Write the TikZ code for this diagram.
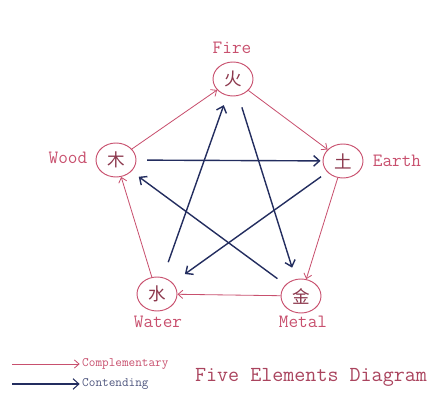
\documentclass[tikz,border=0pt]{standalone}
\usepackage{fontspec}
\newfontfamily\cjkfont{Noto Sans CJK SC}
\usetikzlibrary{positioning, arrows.meta, shapes.geometric}
\definecolor{elemred}{RGB}{200,80,110}
\definecolor{elemblue}{RGB}{35,45,95}
\tikzset{
    elem/.style={ellipse, draw=elemred, line width=0.8pt, inner sep=0pt,
        minimum width=1.2cm, minimum height=1.02cm, text=elemred!70!black, font=\cjkfont\fontsize{15}{17}\selectfont},
    tag/.style={text=elemred, inner sep=0pt, font=\ttfamily\fontsize{16}{18}\selectfont},
    feeds/.style={draw=elemred, line width=0.7pt, -{Straight Barb[length=4pt, width=7pt]}},
    fights/.style={draw=elemblue, line width=1.2pt, -{Straight Barb[length=5pt, width=9pt]}}
}

\begin{document}
\begin{tikzpicture}[x=0.03cm, y=-0.03cm]
    \useasboundingbox (0,0) rectangle (443,402);

    \node[elem] (fire)  at (233,79)  {火};
    \node[elem] (wood)  at (116,160) {木};
    \node[elem] (earth) at (343,161) {土};
    \node[elem] (water) at (157,294) {水};
    \node[elem] (metal) at (301,296) {金};

    \node[tag] (firetag)  at (232,48)  {Fire};
    \node[tag] (woodtag)  at (68,158)  {Wood};
    \node[tag] (earthtag) at (397,161) {Earth};
    \node[tag] (watertag) at (158,322) {Water};
    \node[tag] (metaltag) at (303,322) {Metal};

    % generating cycle
    \draw[feeds] (wood) -- (fire);
    \draw[feeds] (fire) -- (earth);
    \draw[feeds] (earth) -- (metal);
    \draw[feeds] (metal) -- (water);
    \draw[feeds] (water) -- (wood);

    % overcoming star
    \draw[fights, shorten <=0.32cm, shorten >=0.06cm] (wood) -- (earth);
    \draw[fights, shorten <=0.23cm, shorten >=0.45cm] (earth) -- (water);
    \draw[fights, shorten <=0.48cm, shorten >=0.3cm] (water) -- (fire);
    \draw[fights, shorten <=0.36cm, shorten >=0.36cm] (fire) -- (metal);
    \draw[fights, shorten <=0.3cm, shorten >=0.27cm] (metal) -- (wood);

    % legend
    \coordinate (feedstart) at (12,364);
    \coordinate (fightstart) at (12,384);
    \node[anchor=west, inner sep=0pt, text=elemred, font=\ttfamily\fontsize{11}{13}\selectfont] (feedlabel) at (82,364) {Complementary};
    \node[anchor=west, inner sep=0pt, text=elemblue!80, font=\ttfamily\fontsize{11}{13}\selectfont] (fightlabel) at (82,384) {Contending};
    \draw[feeds] (feedstart) -- ([xshift=-2pt]feedlabel.west);
    \draw[fights, line width=0.9pt] (fightstart) -- ([xshift=-2pt]fightlabel.west);

    \node[text=elemred!85!black, inner sep=0pt, font=\ttfamily\fontsize{18.3}{20}\selectfont] (title) at (311,377) {Five Elements Diagram};
\end{tikzpicture}
\end{document}
